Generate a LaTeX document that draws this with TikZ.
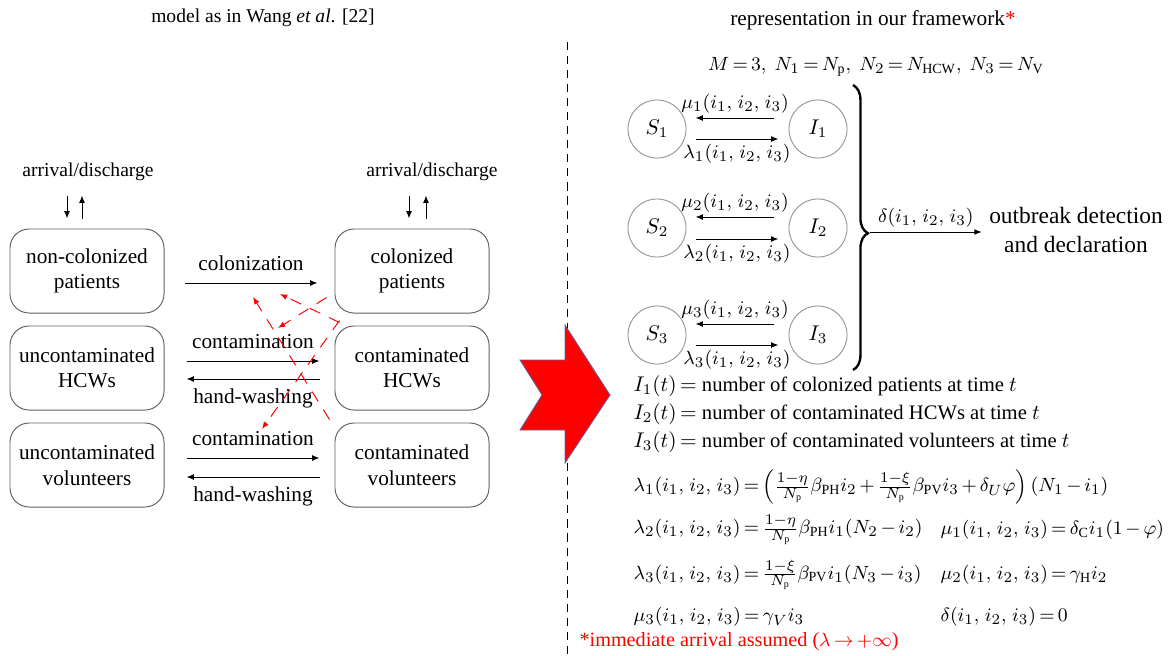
\documentclass[tikz,border=0pt]{standalone}
\usepackage{amsmath}
\usepackage{fontspec}
\setmainfont{Liberation Serif}
\usetikzlibrary{calc,arrows.meta,decorations.pathreplacing}
\newcommand{\ivec}{(i_1,\mskip2mu i_2,\mskip2mu i_3)}

\begin{document}
\thickmuskip=3mu plus 2mu
\medmuskip=2.5mu plus 1mu
\begin{tikzpicture}[x=0.47pt,y=-0.47pt,line width=0.45pt,>={Latex[length=1.2mm,width=0.95mm]},
  box/.style={draw=gray!75!black,rounded corners=9pt,minimum width=72.4pt,minimum height=39.5pt,align=center,inner sep=1pt},
  st/.style={circle,draw=gray!80,minimum size=27.3pt,inner sep=0pt},
  small/.style={font=\fontsize{9.2}{11}\selectfont},
  rate/.style={font=\fontsize{9.4}{11}\selectfont,inner sep=2pt},
  eq/.style={anchor=west,font=\fontsize{9.4}{11}\selectfont},
  rd/.style={->,red,dash pattern=on 5.5pt off 4.5pt}]
  \useasboundingbox (0,0) rectangle (1171,656);
  % ===== Left: model as in Wang et al. =====
  \node[small] at (263,18) {model as in Wang \textit{et al}. [22]};
  \node[box] (nc) at (87,271) {non-colonized\\patients};
  \node[box] (uh) at (87,368) {uncontaminated\\HCWs};
  \node[box] (uv) at (87,465) {uncontaminated\\volunteers};
  \node[box] (cp) at (412,271) {colonized\\patients};
  \node[box] (ch) at (412,368) {contaminated\\HCWs};
  \node[box] (cv) at (412,465) {contaminated\\volunteers};
  % arrival/discharge
  \node[small] (ad1) at (88,172) {arrival/discharge};
  \node[small] (ad2) at (432,172) {arrival/discharge};
  \draw[->] ($(nc.north)+(-20,-33)$) -- ($(nc.north)+(-20,-10)$);
  \draw[->] ($(nc.north)+(-5,-10)$) -- ($(nc.north)+(-5,-33)$);
  \draw[->] ($(cp.north)+(-3,-33)$) -- ($(cp.north)+(-3,-10)$);
  \draw[->] ($(cp.north)+(14,-10)$) -- ($(cp.north)+(14,-33)$);
  % transitions
  \draw[->] ($(nc.east)+(20,12)$) -- node[above=2pt]{colonization} ($(cp.west)+(-17,12)$);
  \draw[->] ($(uh.east)+(22,-7)$) -- node[above=2pt]{contamination} ($(ch.west)+(-15,-7)$);
  \draw[->] ($(ch.west)+(-15,11)$) -- node[below=1pt]{hand-washing} ($(uh.east)+(22,11)$);
  \draw[->] ($(uv.east)+(22,-7)$) -- node[above=2pt]{contamination} ($(cv.west)+(-15,-7)$);
  \draw[->] ($(cv.west)+(-15,12)$) -- node[below=1pt]{hand-washing} ($(uv.east)+(22,12)$);
  % red dashed influences
  \coordinate (t1) at (278,328);
  \coordinate (t2) at (280,294);
  \coordinate (t3) at (253,297);
  \coordinate (t4) at (262,429);
  \draw[rd] ($(cp.south west)+(-8,-16)$) -- (t1);
  \draw[rd] ($(ch.north west)+(5,-3)$) -- (t2);
  \draw[rd] ($(cv.north west)+(-5,-3)$) -- (t3);
  \draw[rd] ($(cp.south west)+(5,7)$) -- (t4);
  % ===== separator and big arrow =====
  \draw[dash pattern=on 3.8pt off 2.8pt] (567,42) -- (567,656);
  \fill[red,draw=blue!25!gray,line width=0.4pt] (520,360) -- (565,360) -- (565,325) -- (610,395)
    -- (565,463) -- (565,430) -- (520,430) -- (542,395) -- cycle;
  % ===== Right: representation in our framework =====
  \node at (873,20) {representation in our framework\textcolor{red}{*}};
  \node[rate] at (876,67) {$M=3,\ N_1=N_{\mathrm p},\ N_2=N_{\mathrm{HCW}},\ N_3=N_{\mathrm V}$};
  \node[st] (S1) at (657,129) {$S_1$};
  \node[st] (I1) at (818,129) {$I_1$};
  \node[st] (S2) at (657,228) {$S_2$};
  \node[st] (I2) at (818,228) {$I_2$};
  \node[st] (S3) at (657,335) {$S_3$};
  \node[st] (I3) at (818,335) {$I_3$};
  \draw[->] ($(I1.west)+(-14,-11)$) -- node[above,rate]{$\mu_1\ivec$} ($(S1.east)+(9,-11)$);
  \draw[->] ($(S1.east)+(9,10)$) -- node[below,rate]{$\lambda_1\ivec$} ($(I1.west)+(-10,10)$);
  \draw[->] ($(I2.west)+(-14,-11)$) -- node[above,rate]{$\mu_2\ivec$} ($(S2.east)+(9,-11)$);
  \draw[->] ($(S2.east)+(9,11)$) -- node[below,rate]{$\lambda_2\ivec$} ($(I2.west)+(-10,11)$);
  \draw[->] ($(I3.west)+(-14,-11)$) -- node[above,rate]{$\mu_3\ivec$} ($(S3.east)+(9,-11)$);
  \draw[->] ($(S3.east)+(9,10)$) -- node[below,rate]{$\lambda_3\ivec$} ($(I3.west)+(-10,10)$);
  % brace to outbreak detection
  \draw[decorate,decoration={brace,amplitude=7pt,aspect=0.52},line width=1.1pt] (853,85) -- (853,370);
  \coordinate (br) at (870,232);
  \node[align=center,font=\fontsize{11}{13.5}\selectfont] (ob) at (1076,230) {outbreak detection\\and declaration};
  \draw[->] (br) -- node[above,rate]{$\delta\ivec$} (br -| ob.west);
  % definitions
  \node[eq,font=\fontsize{9.7}{11}\selectfont] at (626,386) {$I_1(t)=$ number of colonized patients at time $t$};
  \node[eq,font=\fontsize{9.7}{11}\selectfont] at (626,414) {$I_2(t)=$ number of contaminated HCWs at time $t$};
  \node[eq,font=\fontsize{9.7}{11}\selectfont] at (626,442) {$I_3(t)=$ number of contaminated volunteers at time $t$};
  \node[eq] at (626,487) {$\lambda_1\ivec=\left(\tfrac{1-\eta}{N_{\mathrm p}}\beta_{\mathrm{PH}}i_2+\tfrac{1-\xi}{N_{\mathrm p}}\beta_{\mathrm{PV}}i_3+\delta_U\varphi\right)(N_1-i_1)$};
  \node[eq] at (626,530) {$\lambda_2\ivec=\tfrac{1-\eta}{N_{\mathrm p}}\beta_{\mathrm{PH}}i_1(N_2-i_2)$};
  \node[eq] at (626,575) {$\lambda_3\ivec=\tfrac{1-\xi}{N_{\mathrm p}}\beta_{\mathrm{PV}}i_1(N_3-i_3)$};
  \node[eq] at (626,617) {$\mu_3\ivec=\gamma_V i_3$};
  \node[eq] at (933,530) {$\mu_1\ivec=\delta_{\mathrm C}i_1(1-\varphi)$};
  \node[eq] at (933,575) {$\mu_2\ivec=\gamma_{\mathrm H}i_2$};
  \node[eq] at (933,617) {$\delta\ivec=0$};
  \node[eq,red,font=\fontsize{9.5}{11}\selectfont] at (572,642) {*immediate arrival assumed ($\lambda\to+\infty$)};
\end{tikzpicture}
\end{document}
